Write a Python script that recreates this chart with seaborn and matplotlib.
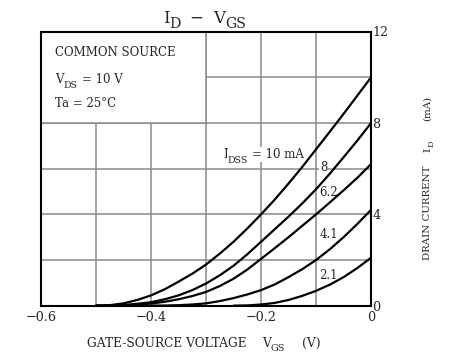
import matplotlib
matplotlib.use("Agg")
import matplotlib.pyplot as plt
from matplotlib.patches import Rectangle
import pandas as pd
import seaborn as sns

# I_D vs V_GS (mA)
vgs = [-0.5, -0.475, -0.45, -0.425, -0.4, -0.375, -0.35, -0.325, -0.3,
       -0.275, -0.25, -0.225, -0.2, -0.175, -0.15, -0.125, -0.1, -0.075,
       -0.05, -0.025, 0.0]
id_10 = [0.0, 0.02, 0.1, 0.25, 0.45, 0.72, 1.05, 1.4, 1.8, 2.28, 2.8,
         3.38, 4.0, 4.65, 5.35, 6.08, 6.85, 7.62, 8.4, 9.2, 10.0]
id_8 = [0.0, 0.005, 0.03, 0.08, 0.15, 0.28, 0.45, 0.68, 0.97, 1.33, 1.75,
        2.25, 2.8, 3.35, 3.9, 4.48, 5.1, 5.78, 6.5, 7.23, 8.0]
id_62 = [0.0, 0.003, 0.015, 0.04, 0.09, 0.17, 0.28, 0.42, 0.6, 0.86, 1.18,
         1.58, 2.05, 2.52, 3.0, 3.5, 4.0, 4.52, 5.05, 5.6, 6.2]
vgs_41 = [-0.4, -0.375, -0.35, -0.325, -0.3, -0.275, -0.25, -0.225, -0.2,
          -0.175, -0.15, -0.125, -0.1, -0.075, -0.05, -0.025, 0.0]
id_41 = [0.0, 0.005, 0.02, 0.05, 0.1, 0.2, 0.33, 0.49, 0.68, 0.93, 1.25,
         1.6, 2.0, 2.47, 3.0, 3.58, 4.2]
vgs_21 = [-0.25, -0.225, -0.2, -0.175, -0.15, -0.125, -0.1, -0.075, -0.05,
          -0.025, 0.0]
id_21 = [0.0, 0.01, 0.05, 0.12, 0.25, 0.43, 0.65, 0.92, 1.25, 1.65, 2.1]

idss_labels = ["8", "6.2", "4.1", "2.1"]

frames = [
    pd.DataFrame({"vgs": vgs, "id": id_10, "idss": "10"}),
    pd.DataFrame({"vgs": vgs, "id": id_8, "idss": "8"}),
    pd.DataFrame({"vgs": vgs, "id": id_62, "idss": "6.2"}),
    pd.DataFrame({"vgs": vgs_41, "id": id_41, "idss": "4.1"}),
    pd.DataFrame({"vgs": vgs_21, "id": id_21, "idss": "2.1"}),
]
df = pd.concat(frames, ignore_index=True)

sns.set_style("white")
plt.rcParams["font.family"] = ["DejaVu Serif"]

fig = plt.figure(figsize=(4.51, 3.60), dpi=100)
ax = fig.add_axes([0.091, 0.151, 0.732, 0.7615])


def rich(xy, coords, parts, size, rotation=0, drop=2.5, sub_scale=0.8, **kw):
    """Text with datasheet-style subscripts: parts = (text, is_sub, gap_pt)."""
    prev, prev_sub = None, False
    for txt, sub, gap in parts:
        fs = size * sub_scale if sub else size
        shift = -drop if (sub and not prev_sub) else (drop if (prev_sub and not sub) else 0)
        if prev is None:
            t = ax.annotate(txt, xy=xy, xycoords=coords, fontsize=fs,
                            rotation=rotation, annotation_clip=False,
                            ha="right" if rotation else "left",
                            va="bottom" if rotation else "baseline", **kw)
        elif rotation:
            t = ax.annotate(txt, xy=(1, 1), xycoords=prev, xytext=(-shift, gap),
                            textcoords="offset points", fontsize=fs,
                            rotation=rotation, ha="right", va="bottom", **kw)
        else:
            t = ax.annotate(txt, xy=(1, 0), xycoords=prev, xytext=(gap, shift),
                            textcoords="offset points", fontsize=fs,
                            ha="left", va="bottom", **kw)
        prev, prev_sub = t, sub


sns.lineplot(data=df, x="vgs", y="id", hue="idss", units="idss",
             estimator=None, sort=False, palette=["black"] * 5,
             linewidth=1.6, legend=False, ax=ax, zorder=3)

ax.set_xlim(-0.6, 0)
ax.set_ylim(0, 12)
ax.set_xticks([-0.6, -0.4, -0.2, 0])
ax.set_xticklabels(["\u22120.6", "\u22120.4", "\u22120.2", "0"])
ax.set_xticks([-0.5, -0.3, -0.1], minor=True)
ax.yaxis.tick_right()
ax.set_yticks([0, 4, 8, 12])
ax.set_yticks([2, 6, 10], minor=True)
ax.tick_params(which="both", length=0, labelsize=9.2)
ax.tick_params(axis="y", pad=1)
ax.tick_params(axis="x", pad=4)
ax.grid(True, which="both", color="#8a8a8a", linewidth=1.1)
ax.set_axisbelow(True)
ax.set_xlabel("")
ax.set_ylabel("")
for s in ax.spines.values():
    s.set_color("black")
    s.set_linewidth(1.5)
    s.set_zorder(5)

# white panel for the test conditions
ax.add_patch(Rectangle((-0.6, 8), 0.3, 4, facecolor="white",
                       edgecolor="#8a8a8a", linewidth=1.1, zorder=1))
ax.text(-0.5745, 10.92, "COMMON SOURCE", fontsize=8.5, va="baseline")
rich((-0.5745, 9.74), "data", [("V", False, 0), ("DS", True, 0),
                               ("= 10 V", False, 3)], 8.5)
ax.text(-0.5745, 8.68, "Ta = 25\u00b0C", fontsize=8.5, va="baseline")

box = dict(facecolor="white", edgecolor="none", pad=0.6)
rich((-0.269, 6.45), "data", [("I", False, 0), ("DSS", True, 0),
                              ("= 10 mA", False, 2.5)], 8.5,
     bbox=box, zorder=2)
label_y = [6.05, 4.95, 3.1, 1.34]
label_x = [-0.086, -0.077, -0.077, -0.078]
for lab, x, y in zip(idss_labels, label_x, label_y):
    ax.text(x, y, lab, fontsize=8.5, ha="center", va="center",
            bbox=box, zorder=2)

# title and axis labels, with subscripts
rich((163, 337), "figure pixels",
     [("I", False, 0), ("D", True, 0), ("\u2212", False, 6),
      ("V", False, 7), ("GS", True, 0)], 12, drop=3, sub_scale=0.85)
rich((87, 13), "figure pixels",
     [("GATE-SOURCE VOLTAGE", False, 0), ("V", False, 11),
      ("GS", True, 0), ("(V)", False, 12)], 8.8)
rich((432, 100), "figure pixels",
     [("DRAIN CURRENT", False, 0), ("I", False, 10), ("D", True, 0),
      ("(mA)", False, 14)], 7.4, rotation=90)

fig.savefig("out.png", dpi=100)
